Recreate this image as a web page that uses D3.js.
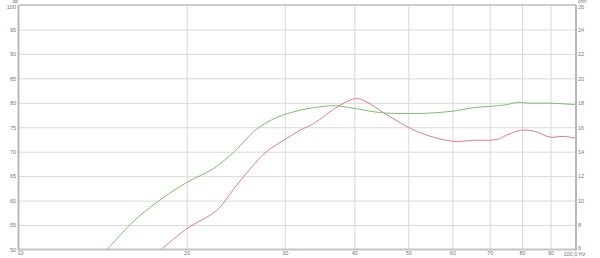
<!DOCTYPE html>
<html><head><meta charset="utf-8">
<script src="https://cdn.jsdelivr.net/npm/d3@7"></script>
<style>
html,body{margin:0;padding:0;background:#fff;}
svg{display:block;}
text{font-family:"Liberation Sans",Arial,sans-serif;fill:#777;}
</style></head>
<body><svg id="c" width="600" height="258"></svg>
<script>
// Frequency ticks (Hz)
const freqTicks = [10,20,30,40,50,60,70,80,90,100];
const freqLabels = ["10","20","30","40","50","60","70","80","90","100,0 Hz"];
// Left axis (dB) ticks
const dbTicks = [50,55,60,65,70,75,80,85,90,95,100];
// Right axis (ohm) ticks
const ohmTicks = [6,8,10,12,14,16,18,20,22,24,26];

// Green curve: frequency (Hz) and level (dB)
const greenFreq = [14.4,16.0,17.7,20.0,22.3,24.4,25.5,26.7,29.0,32.0,33.8,36.9,39.8,44.5,49.7,54.7,60.2,65.4,70.6,75.0,78.5,82.0,91.0,100];
const greenDb   = [50,55.6,59.7,63.7,66.5,70.1,72.4,74.6,77.0,78.5,79.0,79.4,78.9,78.0,77.8,77.9,78.3,79.0,79.3,79.6,80.1,79.95,79.9,79.6];

// Red curve: frequency (Hz) and impedance (ohm)
const redFreq = [18.0,20.0,22.65,24.25,26.0,27.8,29.8,31.95,33.8,37.7,40.4,42.1,45.1,50.0,54.0,60.2,65.4,72.1,75.1,79.5,83.8,89.8,94.9,100];
const redOhm  = [6.0,7.7,9.2,10.9,12.6,14.0,14.9,15.75,16.3,17.8,18.35,18.07,17.2,16.0,15.35,14.85,14.93,15.0,15.35,15.75,15.7,15.2,15.25,15.1];

const svg = d3.select("#c");
const L = 19, R = 576, T = 5, B = 249.5;
const x = d3.scaleLog().domain([10,100]).range([L,R]);
const yL = d3.scaleLinear().domain([50,100]).range([B,T]);
const yR = d3.scaleLinear().domain([6,26]).range([B,T]);

// Gridlines
const gx = svg.append("g").attr("transform",`translate(0,${B})`)
  .call(d3.axisBottom(x).tickValues(freqTicks.slice(1,-1)).tickSize(-(B-T)).tickFormat(""));
gx.select(".domain").remove();
gx.selectAll("line").attr("stroke","#d9d9d9").attr("stroke-width",1);

const gy = svg.append("g").attr("transform",`translate(${L},0)`)
  .call(d3.axisLeft(yL).tickValues(dbTicks.slice(1,-1)).tickSize(-(R-L)).tickFormat(""));
gy.select(".domain").remove();
gy.selectAll("line").attr("stroke","#d9d9d9").attr("stroke-width",1);

// Curves
const lineG = d3.line().x((d,i)=>x(greenFreq[i])).y((d,i)=>yL(greenDb[i])).curve(d3.curveCatmullRom.alpha(0.5));
const lineR = d3.line().x((d,i)=>x(redFreq[i])).y((d,i)=>yR(redOhm[i])).curve(d3.curveCatmullRom.alpha(0.5));
svg.append("path").attr("d",lineR(redFreq)).attr("fill","none").attr("stroke","#e27f7f").attr("stroke-width",1);
svg.append("path").attr("d",lineG(greenFreq)).attr("fill","none").attr("stroke","#78c46a").attr("stroke-width",1);

// Frame
svg.append("line").attr("x1",L).attr("x2",R).attr("y1",T).attr("y2",T).attr("stroke","#bdbdbd").attr("stroke-width",1.5);
svg.append("line").attr("x1",L).attr("x2",R).attr("y1",B).attr("y2",B).attr("stroke","#c4c4c4").attr("stroke-width",2);
svg.append("line").attr("x1",L-0.5).attr("x2",L-0.5).attr("y1",T).attr("y2",B+1).attr("stroke","#b8b8b8").attr("stroke-width",2);
svg.append("line").attr("x1",R).attr("x2",R).attr("y1",T).attr("y2",B+1).attr("stroke","#b8b8b8").attr("stroke-width",2);

// Left axis labels
const al = svg.append("g").attr("transform",`translate(${L-3},0)`)
  .call(d3.axisLeft(yL).tickValues(dbTicks).tickSize(0).tickPadding(0));
al.select(".domain").remove();
al.selectAll("text").attr("font-size",5.5).attr("fill","#777").attr("dy","0.32em")
  .style("font-family","Liberation Sans, Arial, sans-serif");
al.selectAll("text").filter(d=>d===100).attr("dy","0.55em");
svg.append("text").attr("x",L-1).attr("y",3).attr("text-anchor","end").attr("font-size",4.5).text("dB");

// Right axis labels
const ar = svg.append("g").attr("transform",`translate(${R+2},0)`)
  .call(d3.axisRight(yR).tickValues(ohmTicks).tickSize(0).tickPadding(0));
ar.select(".domain").remove();
ar.selectAll("text").attr("font-size",5.5).attr("fill","#777").attr("dy","0.32em")
  .style("font-family","Liberation Sans, Arial, sans-serif");
ar.selectAll("text").filter(d=>d===26).attr("dy","0.6em");
ar.selectAll("text").filter(d=>d===6).attr("dy","-0.05em");
svg.append("text").attr("x",R+2).attr("y",3).attr("font-size",4.5).text("ohm");

// Bottom labels
const ab = svg.append("g").attr("transform",`translate(0,${B})`)
  .call(d3.axisBottom(x).tickValues(freqTicks).tickSize(0).tickPadding(1.5)
    .tickFormat((d,i)=>freqLabels[freqTicks.indexOf(d)]));
ab.select(".domain").remove();
ab.selectAll("text").attr("font-size",5.5).attr("fill","#777")
  .style("font-family","Liberation Sans, Arial, sans-serif");
ab.selectAll("text").filter(d=>d===100).attr("text-anchor","start").attr("dx",-13).attr("dy","0.85em");
ab.selectAll("text").filter(d=>d===10).attr("dx",1);
</script></body></html>
